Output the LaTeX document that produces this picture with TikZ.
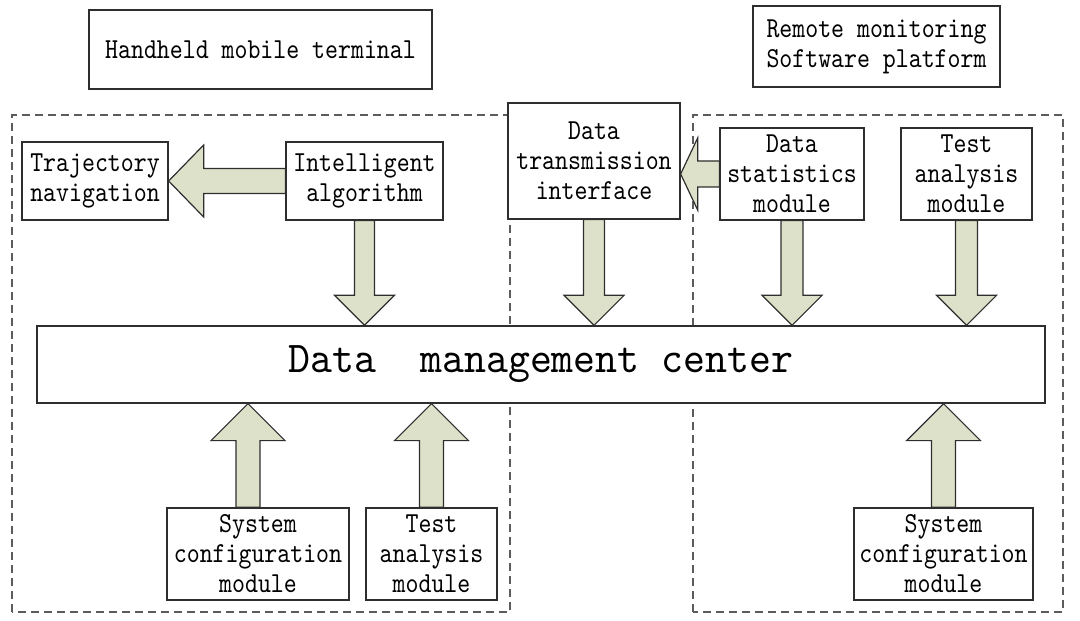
\documentclass[tikz,border=0pt]{standalone}
\usepackage{fontspec}
\usetikzlibrary{calc}

% Condensed serif typewriter faces for the labels
\newfontfamily\boxfont[FakeStretch=0.85]{lmmono10-regular.otf}
\newfontfamily\bigfont[FakeStretch=0.95]{lmmono10-regular.otf}

\definecolor{arrowfill}{HTML}{DDE1C9}
\definecolor{boxline}{HTML}{2E2E2E}
\definecolor{regionline}{HTML}{5C5C5C}

% Vertical block arrow: #1 start point, #2 tip point (only its y is used),
% #3 half shaft width, #4 half head width, #5 signed head length
\newcommand\blockarrowv[5]{%
  \draw[blockarrow] let \p1=(#1), \p2=(#2) in
    (\x1-#3,\y1) -- (\x1-#3,\y2+#5) -- (\x1-#4,\y2+#5) -- (\x1,\y2)
    -- (\x1+#4,\y2+#5) -- (\x1+#3,\y2+#5) -- (\x1+#3,\y1) -- cycle;}

% Horizontal block arrow pointing left: #1 start point, #2 tip point (only its x is used)
\newcommand\blockarrowh[5]{%
  \draw[blockarrow] let \p1=(#1), \p2=(#2) in
    (\x1,\y1+#3) -- (\x2+#5,\y1+#3) -- (\x2+#5,\y1+#4) -- (\x2,\y1)
    -- (\x2+#5,\y1-#4) -- (\x2+#5,\y1-#3) -- (\x1,\y1-#3) -- cycle;}

\begin{document}
\begin{tikzpicture}[x=1pt,y=1pt,
  box/.style={draw=boxline, line width=1.3pt, fill=white, inner sep=0pt,
    align=center, font=\boxfont\fontsize{29}{30}\selectfont},
  bigbox/.style={box, font=\bigfont\fontsize{44}{50}\selectfont},
  region/.style={draw=regionline, line width=1.6pt, dash pattern=on 8pt off 5pt},
  blockarrow/.style={draw=boxline, line width=1.2pt, fill=arrowfill, line join=miter}]

\useasboundingbox (0,0) rectangle (1080,621);

% dashed subsystem regions
\draw[region] (12,9) rectangle (510,506);
\draw[region] (693,9) rectangle (1063,506);

% title boxes
\node[box, minimum width=343, minimum height=79] (hmt) at (260.5,571.5) {Handheld mobile terminal};
\node[box, minimum width=247, minimum height=81] (rms) at (876.5,574.5) {Remote monitoring\\Software platform};

% upper row
\node[box, minimum width=146, minimum height=78] (traj) at (95,440) {Trajectory\\navigation};
\node[box, minimum width=157, minimum height=78] (ia) at (364.5,440) {Intelligent\\algorithm};
\node[box, minimum width=172, minimum height=116] (dti) at (594,460) {Data\\transmission\\interface};
\node[box, minimum width=144, minimum height=92] (ds) at (792,447) {Data\\statistics\\module};
\node[box, minimum width=131, minimum height=92] (ta1) at (966.5,447) {Test\\analysis\\module};

% central box
\node[bigbox, minimum width=1008, minimum height=77] (dmc) at (541,256.5) {Data\ \ management center};

% lower row
\node[box, minimum width=182, minimum height=92] (sc1) at (258,67) {System\\configuration\\module};
\node[box, minimum width=131, minimum height=92] (ta2) at (431.5,67) {Test\\analysis\\module};
\node[box, minimum width=179, minimum height=92] (sc2) at (943.5,67) {System\\configuration\\module};

% block arrows
\blockarrowh{ia.west}{traj.east}{12.5}{36}{35}
\blockarrowh{ds.west}{dti.east}{13}{36}{17}

\blockarrowv{ia.south}{dmc.north}{10}{30}{30}
\blockarrowv{dti.south}{dmc.north}{10.5}{30}{30}
\blockarrowv{ds.south}{dmc.north}{11}{30}{30}
\blockarrowv{ta1.south}{dmc.north}{11}{30}{30}

\blockarrowv{$(sc1.north)+(-10,0)$}{dmc.south}{12}{37}{-37}
\blockarrowv{ta2.north}{dmc.south}{12}{37}{-37}
\blockarrowv{sc2.north}{dmc.south}{12}{37}{-37}

\end{tikzpicture}
\end{document}
